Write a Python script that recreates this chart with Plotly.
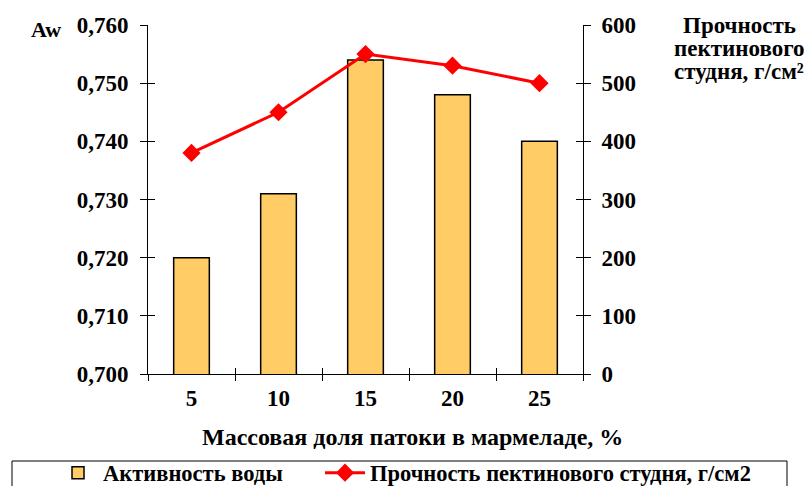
import plotly.graph_objects as go

# Data
categories = ["5", "10", "15", "20", "25"]
water_activity = [0.720, 0.731, 0.754, 0.748, 0.740]
gel_strength = [380, 450, 550, 530, 500]
aw_ticks = [0.700, 0.710, 0.720, 0.730, 0.740, 0.750, 0.760]

bar_name = "Активность воды"
line_name = "Прочность пектинового студня, г/см2"
x_title = "Массовая доля патоки в мармеладе, %"
y_left_title = "Aw"
y_right_title = ["Прочность", "пектинового", "студня, г/см²"]

FONT = "Liberation Serif"
pos = list(range(len(categories)))
bounds = [p - 0.5 for p in pos] + [pos[-1] + 0.5]

# plot-area geometry in pixels, used to place paper-referenced items
L, R, T, B = 148, 583, 25, 374
W, H = R - L, B - T


def px_x(px):
    return (px - L) / W


def px_y(py):
    return (B - py) / H


fig = go.Figure()

fig.add_trace(go.Bar(
    x=pos, y=water_activity, name=bar_name,
    marker=dict(color="#FFCC66", line=dict(color="black", width=1.5)),
    width=0.41, xaxis="x", yaxis="y", legend="legend",
))

fig.add_trace(go.Scatter(
    x=pos, y=gel_strength, name=line_name, mode="lines+markers",
    line=dict(color="#FF0000", width=3),
    marker=dict(symbol="diamond", size=14, color="#FF0000"),
    xaxis="x", yaxis="y2", legend="legend2",
))

# empty traces so the tick-only overlay axes get drawn
for xa, ya in [("x2", "y3"), ("x3", "y4")]:
    fig.add_trace(go.Scatter(x=[None], y=[None], xaxis=xa, yaxis=ya,
                             showlegend=False, hoverinfo="skip"))

tick_font = dict(family=FONT, size=23, color="black", weight="bold")
legend_font = dict(family=FONT, size=22.5, color="black", weight="bold")
xr = [-0.5, len(categories) - 0.5]

fig.update_layout(
    width=809, height=486,
    margin=dict(l=L, r=809 - R, t=T, b=486 - B, autoexpand=False),
    paper_bgcolor="white", plot_bgcolor="white",
    showlegend=True,
    xaxis=dict(range=xr, tickvals=pos, ticktext=categories, ticks="",
               showline=True, linecolor="black", linewidth=1, showgrid=False,
               zeroline=False, tickfont=tick_font, ticklabelstandoff=3),
    xaxis2=dict(range=xr, overlaying="x", anchor="y", tickvals=bounds,
                ticks="outside", ticklen=6, tickcolor="black",
                showticklabels=False, showgrid=False, zeroline=False,
                showline=False, side="bottom"),
    xaxis3=dict(range=xr, overlaying="x", anchor="y", tickvals=bounds,
                ticks="inside", ticklen=6, tickcolor="black",
                showticklabels=False, showgrid=False, zeroline=False,
                showline=False, side="bottom"),
    yaxis=dict(range=[0.700, 0.760], tickvals=aw_ticks,
               ticktext=[f"{v:.3f}".replace(".", ",") for v in aw_ticks],
               ticks="outside", ticklen=7, tickcolor="black",
               showline=True, linecolor="black", linewidth=1, showgrid=False,
               zeroline=False, tickfont=tick_font, ticklabelstandoff=7),
    yaxis2=dict(range=[0, 600], dtick=100, overlaying="y", side="right",
                anchor="x", ticks="outside", ticklen=7, tickcolor="black",
                showline=True, linecolor="black", linewidth=1, showgrid=False,
                zeroline=False, tickfont=tick_font, ticklabelstandoff=6),
    yaxis3=dict(range=[0, 600], dtick=100, overlaying="y", side="left",
                anchor="x2", ticks="inside", ticklen=7, tickcolor="black",
                showticklabels=False, showgrid=False, zeroline=False,
                showline=False),
    yaxis4=dict(range=[0, 600], dtick=100, overlaying="y", side="right",
                anchor="x3", ticks="inside", ticklen=7, tickcolor="black",
                showticklabels=False, showgrid=False, zeroline=False,
                showline=False),
    legend=dict(x=px_x(53), xanchor="left", y=px_y(473), yanchor="middle",
                bgcolor="rgba(0,0,0,0)", font=legend_font, itemwidth=40),
    legend2=dict(x=px_x(320), xanchor="left", y=px_y(473), yanchor="middle",
                 bgcolor="rgba(0,0,0,0)", font=legend_font, itemwidth=40),
)

# legend frame
fig.add_shape(type="rect", xref="paper", yref="paper",
              x0=px_x(12), x1=px_x(787), y0=px_y(461), y1=px_y(520),
              line=dict(color="black", width=1), fillcolor="rgba(0,0,0,0)",
              layer="below")

title_font = dict(family=FONT, size=24, color="black", weight="bold")
fig.add_annotation(text=x_title, xref="paper", yref="paper",
                   x=px_x(412), y=px_y(437),
                   showarrow=False, font=title_font,
                   xanchor="center", yanchor="middle")
fig.add_annotation(text=y_left_title, xref="paper", yref="paper",
                   x=px_x(46), y=px_y(30),
                   showarrow=False, font=dict(family=FONT, size=22, color="black", weight="bold"),
                   xanchor="center", yanchor="middle")
# right-axis title, one annotation per line for tight line spacing
for i, line in enumerate(y_right_title):
    fig.add_annotation(text=line, xref="paper", yref="paper",
                       x=px_x(739), y=px_y(26 + 23 * i),
                       showarrow=False,
                       font=dict(family=FONT, size=23, color="black", weight="bold"),
                       xanchor="center", yanchor="middle")

fig.write_html("out.html")
